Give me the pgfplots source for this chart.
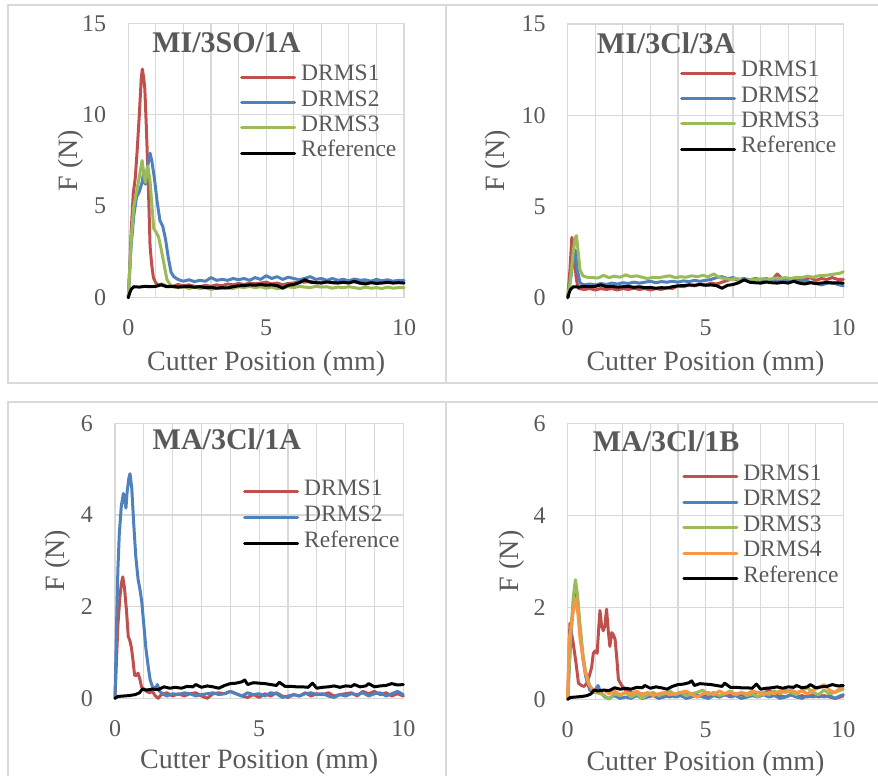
\documentclass[border=0pt]{standalone}
\usepackage{fontspec}
\setmainfont{Liberation Serif}
\usepackage{pgfplots}
\usepackage{pgfplotstable}
\pgfplotsset{compat=1.18}
\definecolor{txt}{HTML}{595959}
\definecolor{grd}{HTML}{D9D9D9}
\definecolor{c1}{HTML}{C0504D}
\definecolor{c2}{HTML}{4F81BD}
\definecolor{c3}{HTML}{9BBB59}
\definecolor{c4}{HTML}{F79646}

\pgfplotstableread{
x y
0 0
0.05 0.25
0.1 0.45
0.2 0.6
0.4 0.58
0.6 0.62
0.8 0.6
1.0 0.62
1.2 0.7
1.4 0.6
1.6 0.62
1.8 0.58
2.0 0.6
2.2 0.62
2.4 0.57
2.6 0.6
2.8 0.55
3.0 0.56
3.2 0.52
3.4 0.55
3.6 0.53
3.8 0.6
4.0 0.65
4.2 0.66
4.4 0.7
4.6 0.68
4.8 0.72
5.0 0.68
5.2 0.7
5.4 0.66
5.6 0.52
5.8 0.68
6.0 0.72
6.2 0.82
6.4 0.98
6.6 0.85
6.8 0.82
7.0 0.8
7.2 0.86
7.4 0.82
7.6 0.8
7.8 0.84
8.0 0.8
8.2 0.9
8.4 0.8
8.6 0.75
8.8 0.82
9.0 0.78
9.2 0.8
9.4 0.84
9.6 0.8
9.8 0.82
10 0.8
}\refMI

\pgfplotstableread{
x y
0 0
0.1 0.04
0.3 0.05
0.5 0.06
0.7 0.08
0.85 0.12
0.95 0.2
1.1 0.18
1.3 0.2
1.5 0.19
1.7 0.25
1.9 0.22
2.1 0.24
2.3 0.22
2.5 0.26
2.7 0.25
2.8 0.3
3.0 0.24
3.2 0.27
3.4 0.25
3.6 0.22
3.8 0.28
4.0 0.32
4.2 0.33
4.4 0.36
4.5 0.4
4.6 0.3
4.8 0.34
5.0 0.33
5.2 0.32
5.4 0.3
5.6 0.28
5.7 0.35
5.9 0.26
6.1 0.26
6.3 0.25
6.5 0.25
6.7 0.24
6.85 0.33
7.0 0.22
7.2 0.24
7.4 0.25
7.6 0.27
7.8 0.24
8.0 0.27
8.2 0.26
8.3 0.3
8.5 0.25
8.7 0.27
8.8 0.32
9.0 0.25
9.2 0.27
9.4 0.28
9.6 0.32
9.8 0.29
10 0.3
}\refMA

\tikzset{ttl/.style={font=\fontsize{30}{30}\selectfont\bfseries, text=txt, anchor=base}}
\pgfplotsset{
  panel/.style={
    scale only axis, clip=false,
    xmin=0, xmax=10, xtick={0,5,10}, minor x tick num=4,
    grid=both,
    major grid style={grd, line width=1.2pt},
    minor grid style={grd, line width=1.2pt},
    axis line style={grd, line width=1.2pt},
    major tick length=0pt, minor tick length=0pt,
    tick style={draw=none},
    /pgf/number format/assume math mode=true,
    ticklabel style={font=\fontsize{24}{24}\selectfont, text=txt, inner sep=0pt},
    xticklabel style={yshift=-22pt},
    yticklabel style={xshift=-22pt},
    label style={font=\fontsize{28}{28}\selectfont, text=txt},
    xlabel={Cutter Position (mm)},
    ylabel={F (N)},
    xlabel style={at={(axis description cs:0.5,-0.24)}, anchor=center},
    legend cell align=left,
    legend style={draw=none, fill=none, font=\fontsize{23.5}{23.5}\selectfont, text=txt,
      anchor=north west, inner sep=0pt, row sep=0.8pt, column sep=5pt,
      nodes={inner sep=0pt, text height=16pt, text depth=8.5pt}},
    legend image code/.code={\draw[#1, line width=3pt] (0pt,0pt) -- (53pt,0pt);},
    every axis plot/.append style={line width=3pt, line join=round, line cap=round, no markers},
  },
}

\begin{document}
\begin{tikzpicture}
\path[use as bounding box] (0,0) rectangle (878pt,776pt);
% panel borders
\begin{scope}[grd, line width=1.3pt]
\draw (878pt,771pt) -- (8pt,771pt) -- (8pt,393pt) -- (878pt,393pt);
\draw (446pt,771pt) -- (446pt,393pt);
\draw (878pt,374pt) -- (8pt,374pt) -- (8pt,-2pt);
\draw (446pt,374pt) -- (446pt,-2pt);
\end{scope}

% ---------------- Top left ----------------
\begin{axis}[panel, at={(128.3pt,478.3pt)}, anchor=south west,
  width=275.7pt, height=274.4pt, ymin=0, ymax=15, ytick={0,5,10,15},
  ylabel style={at={(axis description cs:-0.21,0.5)}, anchor=center},
  legend style={at={(axis description cs:0.405,0.849)}}]
\addplot[c1] table {
0 0
0.05 1.5
0.1 3.5
0.18 5.7
0.25 6.5
0.32 8
0.4 10
0.47 12
0.51 12.5
0.56 12
0.6 11.4
0.65 9.5
0.72 6.5
0.79 2.8
0.85 1.8
0.91 1.1
1.0 0.8
1.1 0.7
1.2 0.75
1.4 0.62
1.6 0.6
1.8 0.72
2.0 0.65
2.2 0.7
2.4 0.62
2.6 0.6
2.8 0.68
3.0 0.62
3.2 0.7
3.4 0.65
3.6 0.75
3.8 0.7
4.0 0.78
4.2 0.72
4.4 0.8
4.6 0.76
4.8 0.8
5.0 0.85
5.2 0.75
5.4 0.8
5.6 0.7
5.8 0.78
6.0 0.8
6.2 0.88
6.4 0.85
6.6 0.9
6.8 0.82
7.0 0.85
7.2 0.9
7.4 0.82
7.6 0.88
7.8 0.85
8.0 0.9
8.2 0.86
8.4 0.8
8.6 0.88
8.8 0.85
9.0 0.9
9.2 0.85
9.4 0.88
9.6 0.82
9.8 0.88
10 0.85
};
\addlegendentry{DRMS1}
\addplot[c2] table {
0 0
0.05 1.5
0.1 2.8
0.2 4.5
0.3 5.5
0.4 5.8
0.5 6.3
0.55 6.8
0.62 6.2
0.7 7.2
0.79 7.9
0.85 7.5
0.95 6.5
1.05 5.2
1.15 4.2
1.25 3.9
1.35 3.2
1.45 2.2
1.55 1.4
1.65 1.15
1.8 1.0
2.0 0.9
2.2 0.98
2.4 0.88
2.6 0.95
2.8 0.9
3.0 1.1
3.2 0.95
3.4 1.0
3.6 0.95
3.8 1.05
4.0 0.98
4.2 1.05
4.4 0.95
4.6 1.1
4.8 1.0
5.0 1.2
5.2 1.05
5.4 1.15
5.6 1.0
5.8 1.12
6.0 1.05
6.2 0.98
6.4 1.05
6.6 1.15
6.8 1.0
7.0 1.05
7.2 0.95
7.4 1.05
7.6 0.95
7.8 1.0
8.0 0.92
8.2 1.02
8.4 0.95
8.6 0.98
8.8 0.9
9.0 1.0
9.2 0.92
9.4 0.98
9.6 0.9
9.8 0.95
10 0.95
};
\addlegendentry{DRMS2}
\addplot[c3] table {
0 0
0.05 1.5
0.12 3.5
0.2 5
0.3 5.8
0.4 6.6
0.5 7.5
0.57 6.7
0.62 6.3
0.7 7.2
0.78 6.5
0.85 5.2
0.92 3.8
1.0 3.6
1.1 3.3
1.2 2.6
1.3 1.8
1.4 1.0
1.5 0.75
1.6 0.6
1.8 0.55
2.0 0.6
2.2 0.5
2.4 0.58
2.6 0.5
2.8 0.55
3.0 0.45
3.2 0.52
3.4 0.5
3.6 0.55
3.8 0.5
4.0 0.6
4.2 0.55
4.4 0.62
4.6 0.55
4.8 0.6
5.0 0.52
5.2 0.58
5.4 0.5
5.6 0.55
5.8 0.6
6.0 0.55
6.2 0.62
6.4 0.58
6.6 0.55
6.8 0.62
7.0 0.58
7.2 0.6
7.4 0.52
7.6 0.58
7.8 0.55
8.0 0.6
8.2 0.55
8.4 0.5
8.6 0.58
8.8 0.52
9.0 0.55
9.2 0.5
9.4 0.58
9.6 0.52
9.8 0.55
10 0.55
};
\addlegendentry{DRMS3}
\addplot[black] table {\refMI};
\addlegendentry{Reference}
\node[ttl] at (axis description cs:0.356,0.892) {MI/3SO/1A};
\end{axis}

% ---------------- Top right ----------------
\begin{axis}[panel, at={(567.7pt,478.3pt)}, anchor=south west,
  width=275.6pt, height=273.7pt, ymin=0, ymax=15, ytick={0,5,10,15},
  ylabel style={at={(axis description cs:-0.254,0.5)}, anchor=center},
  legend style={at={(axis description cs:0.407,0.866)}}]
\addplot[c1] table {
0 0
0.08 1.5
0.15 3.3
0.2 3.0
0.25 2.2
0.3 1.2
0.35 0.7
0.4 0.5
0.6 0.45
0.8 0.5
1.0 0.42
1.2 0.5
1.4 0.45
1.6 0.5
1.8 0.42
2.0 0.5
2.2 0.45
2.4 0.52
2.6 0.45
2.8 0.5
3.0 0.42
3.2 0.5
3.4 0.45
3.6 0.55
3.8 0.5
4.0 0.65
4.2 0.6
4.4 0.7
4.6 0.65
4.8 0.75
5.0 0.7
5.2 0.8
5.4 0.75
5.6 0.85
5.8 0.95
6.0 1.05
6.2 0.95
6.4 1.0
6.6 0.92
6.8 1.0
7.0 0.95
7.2 1.05
7.4 0.95
7.6 1.3
7.8 1.0
8.0 1.05
8.2 0.95
8.4 1.05
8.6 1.0
8.8 1.1
9.0 0.95
9.2 1.05
9.4 1.0
9.6 1.1
9.8 1.0
10 1.0
};
\addlegendentry{DRMS1}
\addplot[c2] table {
0 0
0.1 1
0.2 2
0.28 2.6
0.35 1.5
0.45 0.8
0.6 0.7
0.8 0.75
1.0 0.7
1.2 0.78
1.4 0.72
1.6 0.8
1.8 0.75
2.0 0.82
2.2 0.78
2.4 0.85
2.6 0.8
2.8 0.85
3.0 0.9
3.2 0.82
3.4 0.88
3.6 0.85
3.8 0.9
4.0 0.85
4.2 0.92
4.4 0.88
4.6 0.95
4.8 0.9
5.0 0.95
5.2 1.0
5.4 1.1
5.6 1.15
5.8 1.05
6.0 1.1
6.2 1.0
6.4 1.05
6.6 0.98
6.8 1.05
7.0 1.0
7.2 0.95
7.4 1.0
7.6 0.92
7.8 0.98
8.0 0.9
8.2 0.95
8.4 0.88
8.6 0.92
8.8 0.85
9.0 0.78
9.2 0.7
9.4 0.78
9.6 0.85
9.8 0.72
10 0.65
};
\addlegendentry{DRMS2}
\addplot[c3] table {
0 0
0.1 1
0.2 2.5
0.27 3.3
0.32 3.4
0.38 2.5
0.45 1.5
0.55 1.2
0.7 1.12
0.9 1.1
1.1 1.08
1.3 1.22
1.5 1.1
1.7 1.18
1.9 1.12
2.1 1.25
2.3 1.15
2.5 1.2
2.7 1.12
2.9 1.05
3.1 1.12
3.3 1.1
3.5 1.15
3.7 1.2
3.9 1.1
4.1 1.15
4.3 1.12
4.5 1.2
4.7 1.15
4.9 1.22
5.1 1.15
5.3 1.3
5.5 1.1
5.7 1.05
5.9 1.0
6.1 1.05
6.3 0.98
6.5 0.95
6.7 1.0
6.9 0.98
7.1 1.05
7.3 1.0
7.5 1.08
7.7 1.05
7.9 1.1
8.1 1.05
8.3 1.12
8.5 1.1
8.7 1.18
8.9 1.12
9.1 1.2
9.3 1.22
9.5 1.25
9.7 1.3
9.9 1.35
10 1.42
};
\addlegendentry{DRMS3}
\addplot[black] table {\refMI};
\addlegendentry{Reference}
\node[ttl] at (axis description cs:0.357,0.892) {MI/3Cl/3A};
\end{axis}

% ---------------- Bottom left ----------------
\begin{axis}[panel, at={(115pt,77.7pt)}, anchor=south west,
  width=288.3pt, height=275pt, ymin=0, ymax=6, ytick={0,2,4,6},
  ylabel style={at={(axis description cs:-0.197,0.5)}, anchor=center},
  xlabel style={at={(axis description cs:0.5,-0.23)}},
  legend style={at={(axis description cs:0.444,0.798)}, row sep=1.5pt}]
\addplot[c1] table {
0 0
0.05 0.8
0.1 1.6
0.17 2.2
0.22 2.5
0.27 2.65
0.33 2.4
0.4 1.9
0.46 1.35
0.52 1.25
0.57 1.1
0.63 0.8
0.68 0.5
0.75 0.5
0.8 0.55
0.87 0.4
0.92 0.25
1.0 0.2
1.1 0.15
1.2 0.12
1.3 0.15
1.4 0.05
1.5 0.0
1.6 0.08
1.8 0.12
2.0 0.05
2.2 0.1
2.4 0.05
2.6 0.1
2.8 0.12
3.0 0.05
3.2 0.0
3.4 0.1
3.6 0.12
3.8 0.1
4.0 0.15
4.2 0.1
4.4 0.05
4.6 0.02
4.8 0.08
5.0 0.02
5.2 0.1
5.4 0.05
5.6 0.12
5.8 0.05
6.0 0.02
6.2 0.08
6.4 0.05
6.6 0.12
6.8 0.05
7.0 0.1
7.2 0.08
7.4 0.12
7.6 0.05
7.8 0.08
8.0 0.1
8.2 0.12
8.4 0.05
8.6 0.15
8.8 0.1
9.0 0.15
9.2 0.08
9.4 0.12
9.6 0.05
9.8 0.1
10 0.05
};
\addlegendentry{DRMS1}
\addplot[c2] table {
0 0
0.05 1.5
0.1 2.8
0.15 3.6
0.22 4.2
0.29 4.47
0.34 4.3
0.38 4.15
0.42 4.5
0.48 4.8
0.52 4.9
0.58 4.6
0.65 3.8
0.72 3.1
0.8 2.6
0.87 2.36
0.93 2.1
1.0 1.6
1.07 1.1
1.15 0.7
1.22 0.4
1.3 0.25
1.38 0.2
1.47 0.3
1.55 0.15
1.65 0.1
1.8 0.05
2.0 0.1
2.2 0.08
2.4 0.12
2.6 0.1
2.8 0.05
3.0 0.08
3.2 0.1
3.4 0.12
3.6 0.08
3.8 0.1
4.0 0.15
4.2 0.1
4.4 0.05
4.6 0.12
4.8 0.08
5.0 0.1
5.2 0.05
5.4 0.12
5.6 0.1
5.8 0.02
6.0 0.05
6.2 0.08
6.4 0.05
6.6 0.1
6.8 0.12
7.0 0.08
7.2 0.1
7.4 0.05
7.6 0.02
7.8 0.08
8.0 0.05
8.2 0.1
8.4 0.08
8.6 0.12
8.8 0.05
9.0 0.1
9.2 0.12
9.4 0.05
9.6 0.1
9.8 0.15
10 0.08
};
\addlegendentry{DRMS2}
\addplot[black] table {\refMA};
\addlegendentry{Reference}
\node[ttl] at (axis description cs:0.388,0.903) {MA/3Cl/1A};
\end{axis}

% ---------------- Bottom right ----------------
\begin{axis}[panel, at={(567.7pt,76.7pt)}, anchor=south west,
  width=275.6pt, height=276pt, ymin=0, ymax=6, ytick={0,2,4,6},
  ylabel style={at={(axis description cs:-0.203,0.5)}, anchor=center},
  xlabel style={at={(axis description cs:0.5,-0.232)}},
  legend style={at={(axis description cs:0.415,0.852)}, row sep=1.0pt}]
\addplot[c1] table {
0 0
0.08 1.65
0.2 1.22
0.3 0.8
0.39 0.35
0.5 0.3
0.6 0.28
0.69 0.35
0.78 0.5
0.87 0.7
0.93 1.0
0.99 1.05
1.07 1.0
1.12 1.5
1.17 1.93
1.23 1.6
1.29 1.49
1.35 1.6
1.41 1.96
1.47 1.5
1.53 1.15
1.6 1.45
1.66 1.4
1.72 1.3
1.78 0.9
1.84 0.43
1.96 0.3
2.1 0.2
2.3 0.15
2.5 0.1
2.7 0.12
2.9 0.08
3.1 0.1
3.3 0.05
3.5 0.08
3.7 0.05
3.9 0.1
4.1 0.08
4.3 0.1
4.5 0.12
4.7 0.05
4.9 0.1
5.1 0.08
5.3 0.12
5.5 0.05
5.7 0.1
5.9 0.08
6.1 0.12
6.3 0.1
6.5 0.05
6.7 0.1
6.9 0.15
7.1 0.12
7.3 0.2
7.5 0.1
7.7 0.08
7.9 0.05
8.1 0.1
8.3 0.05
8.5 0.08
8.7 0.05
8.9 0.1
9.1 0.05
9.3 0.08
9.5 0.05
9.7 0.02
9.9 0.05
10 0.08
};
\addlegendentry{DRMS1}
\addplot[c2] table {
0 0
0.1 1.2
0.2 2.1
0.28 2.5
0.35 2.2
0.45 1.5
0.55 0.9
0.65 0.5
0.8 0.2
0.95 0.15
1.1 0.3
1.2 0.15
1.35 0.05
1.5 0.02
1.7 0.08
1.9 0.02
2.1 0.05
2.3 0.02
2.5 0.08
2.7 0.02
2.9 0.05
3.1 0.08
3.3 0.02
3.5 0.05
3.7 0.1
3.9 0.05
4.1 0.08
4.3 0.02
4.5 0.05
4.7 0.1
4.9 0.05
5.1 0.02
5.3 0.08
5.5 0.05
5.7 0.1
5.9 0.05
6.1 0.08
6.3 0.02
6.5 0.05
6.7 0.08
6.9 0.05
7.1 0.1
7.3 0.05
7.5 0.08
7.7 0.02
7.9 0.05
8.1 0.1
8.3 0.05
8.5 0.02
8.7 0.08
8.9 0.05
9.1 0.1
9.3 0.05
9.5 0.08
9.7 0.02
9.9 0.08
10 0.1
};
\addlegendentry{DRMS2}
\addplot[c3] table {
0 0
0.1 1.3
0.2 2.2
0.28 2.6
0.35 2.3
0.45 1.6
0.55 1.0
0.65 0.6
0.8 0.3
0.9 0.2
1.0 0.15
1.3 0.1
1.5 0.0
1.7 0.12
1.9 0.08
2.1 0.15
2.3 0.05
2.5 0.12
2.7 0.02
2.9 0.1
3.1 0.15
3.3 0.08
3.5 0.12
3.7 0.18
3.9 0.1
4.1 0.15
4.3 0.08
4.5 0.12
4.7 0.15
4.9 0.2
5.1 0.1
5.3 0.15
5.5 0.08
5.7 0.12
5.9 0.18
6.1 0.1
6.3 0.15
6.5 0.08
6.7 0.12
6.9 0.05
7.1 0.15
7.3 0.1
7.5 0.18
7.7 0.12
7.9 0.2
8.1 0.15
8.3 0.1
8.5 0.2
8.7 0.25
8.9 0.15
9.1 0.1
9.3 0.2
9.5 0.12
9.7 0.15
9.9 0.2
10 0.22
};
\addlegendentry{DRMS3}
\addplot[c4] table {
0 0
0.05 1.3
0.15 1.7
0.25 2.1
0.3 2.2
0.38 1.8
0.45 1.3
0.55 0.9
0.65 0.55
0.75 0.35
0.85 0.25
0.95 0.2
1.1 0.15
1.3 0.2
1.5 0.12
1.7 0.18
1.9 0.1
2.1 0.15
2.3 0.12
2.5 0.18
2.7 0.1
2.9 0.15
3.1 0.08
3.3 0.12
3.5 0.15
3.7 0.1
3.9 0.12
4.1 0.15
4.3 0.18
4.5 0.1
4.7 0.05
4.9 0.12
5.1 0.15
5.3 0.1
5.5 0.18
5.7 0.12
5.9 0.15
6.1 0.1
6.3 0.15
6.5 0.12
6.7 0.18
6.9 0.15
7.1 0.1
7.3 0.15
7.5 0.12
7.7 0.18
7.9 0.15
8.1 0.2
8.3 0.15
8.5 0.18
8.7 0.12
8.9 0.2
9.1 0.25
9.3 0.32
9.5 0.2
9.7 0.15
9.9 0.25
10 0.28
};
\addlegendentry{DRMS4}
\addplot[black] table {\refMA};
\addlegendentry{Reference}
\node[ttl] at (axis description cs:0.357,0.897) {MA/3Cl/1B};
\end{axis}
\end{tikzpicture}
\end{document}
